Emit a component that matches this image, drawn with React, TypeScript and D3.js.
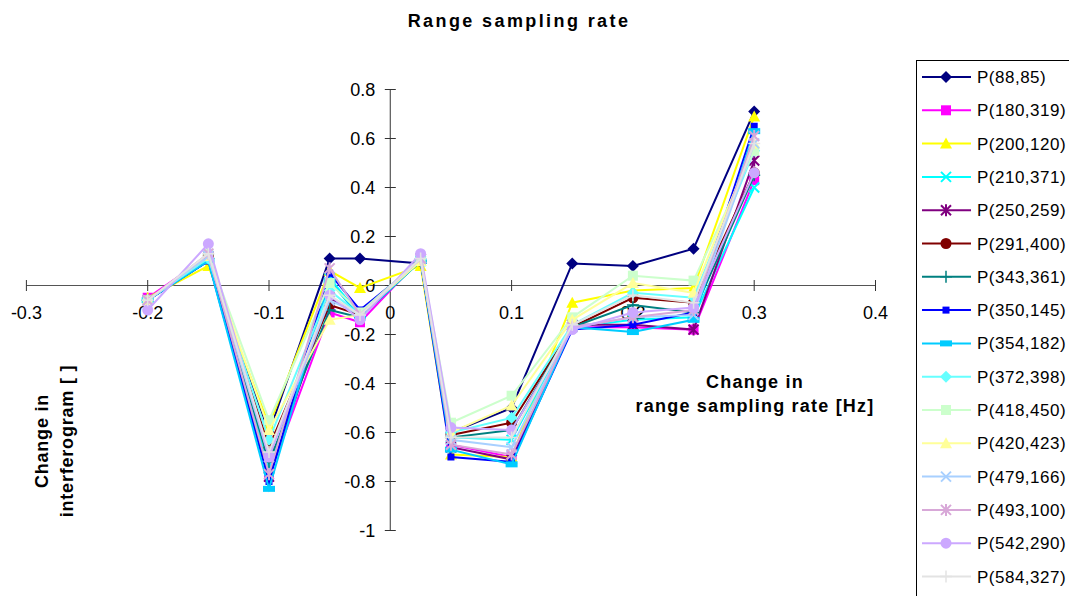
import React from "react";
import * as d3 from "d3";

const xValues = [-0.2, -0.15, -0.1, -0.05, -0.025, 0.025, 0.05, 0.1, 0.15, 0.2, 0.25, 0.3];

const seriesNames = [
  "P(88,85)", "P(180,319)", "P(200,120)", "P(210,371)", "P(250,259)", "P(291,400)",
  "P(343,361)", "P(350,145)", "P(354,182)", "P(372,398)", "P(418,450)", "P(420,423)",
  "P(479,166)", "P(493,100)", "P(542,290)", "P(584,327)",
];

const colors = [
  "#000080", "#FF00FF", "#FFFF00", "#00FFFF", "#800080", "#800000",
  "#008080", "#0000FF", "#00CCFF", "#66FFFF", "#CCFFCC", "#FFFF99",
  "#A8D0FF", "#D8A8D8", "#CCA8FF", "#E3E3E3",
];

const markers = [
  "diamond", "square", "triangle", "x", "star", "circle", "plus", "smallsquare",
  "dash", "diamond", "square", "triangle", "x", "star", "circle", "plus",
];

const values = [
  [-0.06, 0.10, -0.60, 0.11, 0.11, 0.09, -0.60, -0.50, 0.09, 0.08, 0.15, 0.71],
  [-0.05, 0.12, -0.78, -0.11, -0.15, 0.11, -0.65, -0.70, -0.17, -0.17, -0.18, 0.43],
  [-0.05, 0.08, -0.57, 0.06, -0.01, 0.08, -0.69, -0.70, -0.07, -0.02, -0.01, 0.69],
  [-0.06, 0.11, -0.75, 0.03, -0.12, 0.10, -0.62, -0.63, -0.17, -0.14, -0.13, 0.40],
  [-0.06, 0.12, -0.78, -0.05, -0.12, 0.11, -0.66, -0.71, -0.16, -0.16, -0.18, 0.51],
  [-0.06, 0.12, -0.66, -0.08, -0.12, 0.10, -0.61, -0.56, -0.17, -0.05, -0.07, 0.46],
  [-0.06, 0.11, -0.72, -0.10, -0.13, 0.10, -0.62, -0.59, -0.17, -0.08, -0.11, 0.45],
  [-0.06, 0.10, -0.80, 0.05, -0.10, 0.10, -0.70, -0.72, -0.18, -0.16, -0.11, 0.65],
  [-0.06, 0.10, -0.83, 0.02, -0.13, 0.10, -0.67, -0.73, -0.17, -0.19, -0.14, 0.63],
  [-0.06, 0.11, -0.63, -0.02, -0.12, 0.11, -0.60, -0.54, -0.16, -0.03, -0.05, 0.55],
  [-0.06, 0.13, -0.55, 0.01, -0.11, 0.11, -0.56, -0.45, -0.13, 0.04, 0.02, 0.55],
  [-0.06, 0.12, -0.59, -0.14, -0.12, 0.10, -0.60, -0.49, -0.14, 0.01, -0.03, 0.58],
  [-0.06, 0.12, -0.70, -0.06, -0.12, 0.11, -0.63, -0.66, -0.17, -0.13, -0.12, 0.58],
  [-0.06, 0.13, -0.77, 0.07, -0.12, 0.11, -0.65, -0.69, -0.17, -0.13, -0.10, 0.61],
  [-0.10, 0.17, -0.70, -0.04, -0.14, 0.13, -0.58, -0.59, -0.18, -0.11, -0.09, 0.46],
  [-0.06, 0.13, -0.68, -0.04, -0.12, 0.11, -0.62, -0.62, -0.16, -0.04, -0.07, 0.58],
];

const xTicks = [-0.3, -0.2, -0.1, 0, 0.1, 0.2, 0.3, 0.4];
const yTicks = [0.8, 0.6, 0.4, 0.2, 0, -0.2, -0.4, -0.6, -0.8, -1];

const font = "Arial, 'Liberation Sans', sans-serif";

function Marker({ type, x, y, color }: { type: string; x: number; y: number; color: string }) {
  const s = 5;
  switch (type) {
    case "diamond":
      return <path d={`M${x},${y - s - 1}L${x + s + 1},${y}L${x},${y + s + 1}L${x - s - 1},${y}Z`} fill={color} />;
    case "square":
      return <rect x={x - s} y={y - s} width={s * 2} height={s * 2} fill={color} />;
    case "smallsquare":
      return <rect x={x - 3.5} y={y - 3.5} width={7} height={7} fill={color} />;
    case "dash":
      return <rect x={x - 6} y={y - 3} width={12} height={6} fill={color} />;
    case "triangle":
      return <path d={`M${x},${y - s - 1}L${x + s + 1},${y + s}L${x - s - 1},${y + s}Z`} fill={color} />;
    case "circle":
      return <circle cx={x} cy={y} r={s + 0.5} fill={color} />;
    case "x":
      return (
        <path d={`M${x - s},${y - s}L${x + s},${y + s}M${x - s},${y + s}L${x + s},${y - s}`} stroke={color} strokeWidth={2} />
      );
    case "star":
      return (
        <path
          d={`M${x - s},${y - s}L${x + s},${y + s}M${x - s},${y + s}L${x + s},${y - s}M${x},${y - s - 1}L${x},${y + s + 1}`}
          stroke={color}
          strokeWidth={2}
        />
      );
    case "plus":
      return <path d={`M${x - s - 1},${y}L${x + s + 1},${y}M${x},${y - s - 1}L${x},${y + s + 1}`} stroke={color} strokeWidth={1.5} />;
    default:
      return null;
  }
}

export default function App() {
  const width = 1069;
  const height = 596;

  const xScale = d3.scaleLinear().domain([-0.3, 0.4]).range([26.4, 875.5]);
  const yScale = d3.scaleLinear().domain([-1, 0.8]).range([530.5, 89.5]);

  const line = d3
    .line<number>()
    .x((_, i) => xScale(xValues[i]))
    .y((d) => yScale(d));

  const x0 = xScale(0);
  const y0 = yScale(0);
  const fmt = (v: number) => (v === 0 ? "0" : String(+v.toFixed(1)));

  return (
    <svg
      width={width}
      height={height}
      style={{ position: "absolute", left: 0, top: 0, background: "#fff" }}
      fontFamily={font}
    >
      <text x={519} y={27} textAnchor="middle" fontSize={18} fontWeight="bold" letterSpacing={2.4}>
        Range sampling rate
      </text>

      {/* axes */}
      <line x1={xScale(-0.3)} x2={xScale(0.4)} y1={y0} y2={y0} stroke="#555" strokeWidth={1.2} />
      <line x1={x0} x2={x0} y1={yScale(0.8)} y2={yScale(-1)} stroke="#555" strokeWidth={1.2} />
      {xTicks.map((t) => (
        <g key={"xt" + t}>
          <line x1={xScale(t)} x2={xScale(t)} y1={y0 - 5.5} y2={y0 + 5.5} stroke="#333" />
          <text x={xScale(t)} y={y0 + 33.5} textAnchor="middle" fontSize={18}>
            {fmt(t)}
          </text>
        </g>
      ))}
      {yTicks.map((t) => (
        <g key={"yt" + t}>
          <line x1={x0 - 5.5} x2={x0 + 5.5} y1={yScale(t)} y2={yScale(t)} stroke="#333" />
          <text x={x0 - 15} y={yScale(t) + 6.5} textAnchor="end" fontSize={18}>
            {fmt(t)}
          </text>
        </g>
      ))}

      {/* series */}
      {values.map((vals, si) => (
        <g key={seriesNames[si]}>
          <path d={line(vals) || ""} fill="none" stroke={colors[si]} strokeWidth={2} />
          {vals.map((v, i) => (
            <Marker key={i} type={markers[si]} x={xScale(xValues[i])} y={yScale(v)} color={colors[si]} />
          ))}
        </g>
      ))}

      {/* axis titles */}
      <text x={755} y={388} textAnchor="middle" fontSize={18} fontWeight="bold" letterSpacing={1.2}>
        Change in
      </text>
      <text x={755} y={412} textAnchor="middle" fontSize={18} fontWeight="bold" letterSpacing={1.2}>
        range sampling rate [Hz]
      </text>
      <g transform="translate(48,441) rotate(-90)">
        <text x={0} y={0} textAnchor="middle" fontSize={18} fontWeight="bold" letterSpacing={0.8}>
          Change in
        </text>
        <text x={0} y={25} textAnchor="middle" fontSize={18} fontWeight="bold" letterSpacing={0.8}>
          interferogram [ ]
        </text>
      </g>

      {/* legend */}
      <rect x={916.5} y={60.5} width={200} height={600} fill="#fff" stroke="#000" strokeWidth={1} />
      {seriesNames.map((name, i) => {
        const ly = 77 + i * 33.3;
        return (
          <g key={"lg" + name}>
            <line x1={922} x2={971} y1={ly} y2={ly} stroke={colors[i]} strokeWidth={2} />
            <Marker type={markers[i]} x={946} y={ly} color={colors[i]} />
            <text x={977} y={ly + 6} fontSize={17} letterSpacing={0.5}>
              {name}
            </text>
          </g>
        );
      })}
    </svg>
  );
}
